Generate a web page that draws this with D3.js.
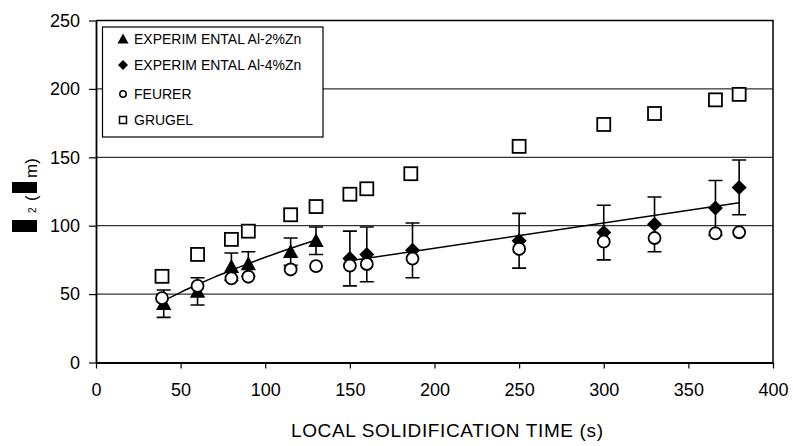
<!DOCTYPE html>
<html><head><meta charset="utf-8">
<script src="https://cdn.jsdelivr.net/npm/d3@7"></script>
<style>
html,body{margin:0;padding:0;background:#fff;}
text{font-family:"Liberation Sans",Arial,sans-serif;fill:#000;}
</style></head><body>
<svg id="c" width="793" height="446"></svg>
<script>
// ---- data ----
const xTicks = [0,50,100,150,200,250,300,350,400];
const yTicks = [0,50,100,150,200,250];
const gridY = [50,100,150,200];

const al2X = [40,60,80,90,115,130];
const al2Y = [43,52,70,72,81,89];
const al2Err = [10,10,10,9,10,10];

const al4X = [150,160,187,250,300,330,366,380];
const al4Y = [76,79,82,89,95,101,113,128];
const al4Err = [20,20,20,20,20,20,20,20];

const feurerX = [39,60,80,90,115,130,150,160,187,250,300,330,366,380];
const feurerY = [47,56,61.5,62.7,68,70.5,70.8,72,76,83,88.3,91,94.4,95.2];

const grugelX = [39,60,80,90,115,130,150,160,186,250,300,330,366,380];
const grugelY = [63,79,90,96,108,114,123,127,138,158,174,182,192,196];

const trend1X = [39,50,60,70,80,90,100,110,120,130];
const trend1Y = [44.5,51.3,57,62.4,67.4,72.3,76.9,81.3,85.5,89.5];
const trend2X = [150,380];
const trend2Y = [74.3,116.8];

const legendLabels = ["EXPERIM ENTAL Al-2%Zn","EXPERIM ENTAL Al-4%Zn","FEURER","GRUGEL"];
const xTitle = "LOCAL SOLIDIFICATION TIME (s)";

// ---- layout ----
const L=96, R=773, T=20.5, B=362.5;
const svg = d3.select("#c");
const x = d3.scaleLinear().domain([0,400]).range([L,R]);
const y = d3.scaleLinear().domain([0,250]).range([B,T]);

// gridlines
svg.append("g").selectAll("line").data(gridY).join("line")
  .attr("x1",L).attr("x2",R).attr("y1",d=>y(d)).attr("y2",d=>y(d))
  .attr("stroke","#000").attr("stroke-width",1);

// frame top/right
svg.append("path").attr("d",`M${L},${T}H${R}V${B}`).attr("fill","none").attr("stroke","#000").attr("stroke-width",1.5);

// axes
const ax = svg.append("g").attr("transform",`translate(0,${B})`)
  .call(d3.axisBottom(x).tickValues(xTicks).tickSize(6).tickPadding(15).tickSizeOuter(0));
const ay = svg.append("g").attr("transform",`translate(${L},0)`)
  .call(d3.axisLeft(y).tickValues(yTicks).tickSize(7).tickPadding(9).tickSizeOuter(0));
[ax,ay].forEach(a=>{
  a.select(".domain").attr("stroke","#000").attr("stroke-width",1.8);
  a.selectAll(".tick line").attr("stroke","#000").attr("stroke-width",1.2);
  a.selectAll("text").style("font-family","Liberation Sans, Arial, sans-serif").style("font-size","18px").attr("fill","#000");
});

// x title
svg.append("text").attr("x",447).attr("y",437).attr("text-anchor","middle")
  .style("font-size","19px").attr("textLength",312).attr("lengthAdjust","spacing").text(xTitle);

// y title (boxes stand in for the missing symbol glyphs)
const yl = svg.append("g").attr("transform","translate(37,232) rotate(-90)");
yl.append("rect").attr("x",0).attr("y",-25).attr("width",12).attr("height",25).attr("fill","#000");
yl.append("text").attr("x",19).attr("y",-1).style("font-size","10px").text("2");
yl.append("text").attr("x",31).attr("y",0).style("font-size","17px").text("(");
yl.append("rect").attr("x",39).attr("y",-25).attr("width",11).attr("height",25).attr("fill","#000");
yl.append("text").attr("x",54).attr("y",0).style("font-size","17px").text("m)");

// trend lines
const line = d3.line().x(d=>x(d[0])).y(d=>y(d[1])).curve(d3.curveMonotoneX);
svg.append("path").datum(trend1X.map((v,i)=>[v,trend1Y[i]])).attr("d",line)
  .attr("fill","none").attr("stroke","#000").attr("stroke-width",1.5);
svg.append("path").datum(trend2X.map((v,i)=>[v,trend2Y[i]])).attr("d",line)
  .attr("fill","none").attr("stroke","#000").attr("stroke-width",1.5);

// error bars
function errBars(xs,ys,es){
  const g = svg.append("g").attr("stroke","#000").attr("stroke-width",1.6).attr("fill","none");
  xs.forEach((xv,i)=>{
    const cx=x(xv), y1=y(ys[i]+es[i]), y2=y(ys[i]-es[i]);
    g.append("path").attr("d",`M${cx},${y1}V${y2}M${cx-7},${y1}H${cx+7}M${cx-7},${y2}H${cx+7}`);
  });
}
errBars(al2X,al2Y,al2Err);
errBars(al4X,al4Y,al4Err);

// marker shapes
const tri = s=>`M0,${-s*0.55}L${s*0.55},${s*0.45}L${-s*0.55},${s*0.45}Z`;
const dia = s=>`M0,${-s/2}L${s/2},0L0,${s/2}L${-s/2},0Z`;

svg.append("g").selectAll("path").data(al2X.map((v,i)=>[v,al2Y[i]])).join("path")
  .attr("transform",d=>`translate(${x(d[0])},${y(d[1])})`).attr("d",tri(14)).attr("fill","#000");
svg.append("g").selectAll("path").data(al4X.map((v,i)=>[v,al4Y[i]])).join("path")
  .attr("transform",d=>`translate(${x(d[0])},${y(d[1])})`).attr("d",dia(15)).attr("fill","#000");
svg.append("g").selectAll("circle").data(feurerX.map((v,i)=>[v,feurerY[i]])).join("circle")
  .attr("cx",d=>x(d[0])).attr("cy",d=>y(d[1])).attr("r",6)
  .attr("fill","#fff").attr("stroke","#000").attr("stroke-width",1.8);
svg.append("g").selectAll("rect").data(grugelX.map((v,i)=>[v,grugelY[i]])).join("rect")
  .attr("x",d=>x(d[0])-6.5).attr("y",d=>y(d[1])-6.5).attr("width",13).attr("height",13)
  .attr("fill","#fff").attr("stroke","#000").attr("stroke-width",1.8);

// legend
const lg = svg.append("g");
lg.append("rect").attr("x",102.5).attr("y",27).attr("width",220.5).attr("height",110)
  .attr("fill","#fff").attr("stroke","#000").attr("stroke-width",1.2);
const ly = [39,65,94,120];
lg.append("path").attr("transform",`translate(123,${ly[0]})`).attr("d",tri(10)).attr("fill","#000");
lg.append("path").attr("transform",`translate(123,${ly[1]})`).attr("d",dia(10)).attr("fill","#000");
lg.append("circle").attr("cx",123).attr("cy",ly[2]).attr("r",3.2).attr("fill","#fff").attr("stroke","#000").attr("stroke-width",1.5);
lg.append("rect").attr("x",119.5).attr("y",ly[3]-3.5).attr("width",7).attr("height",7).attr("fill","#fff").attr("stroke","#000").attr("stroke-width",1.5);
lg.selectAll("text.l").data(legendLabels).join("text").attr("class","l")
  .attr("x",134).attr("y",(d,i)=>ly[i]+5).style("font-size","14px").text(d=>d);
</script>
</body></html>
